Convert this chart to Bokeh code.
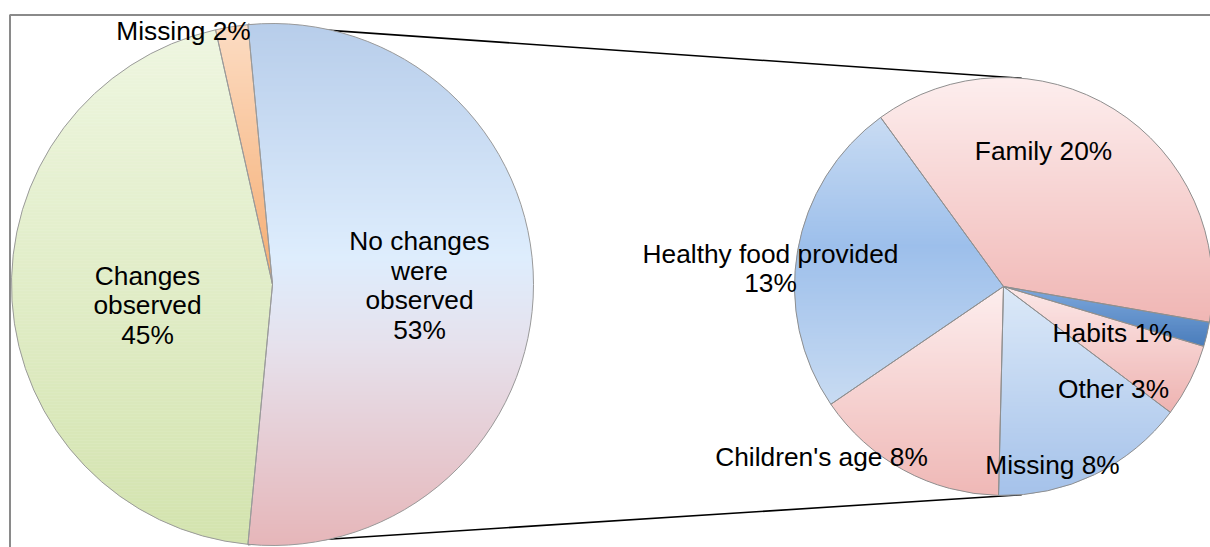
import math
from bokeh.plotting import figure
from bokeh.models import ColumnDataSource
from bokeh.core.properties import value
from bokeh.embed import file_html
from bokeh.resources import INLINE

# ---------------- data ----------------
main_categories = ["No changes were observed", "Changes observed", "Missing"]
main_values = [53, 45, 2]
main_texts = ["No changes\nwere\nobserved\n53%", "Changes\nobserved\n45%", "Missing 2%"]

sub_categories = ["Family", "Habits", "Other", "Missing", "Children's age", "Healthy food provided"]
sub_values = [20, 1, 3, 8, 8, 13]
sub_texts = ["Family 20%", "Habits 1%", "Other 3%", "Missing 8%", "Children's age 8%",
             "Healthy food provided\n13%"]

# ---------------- layout / style ----------------
W, H = 1210, 547
MAIN_C = (272, 284)
MAIN_R = 261
SUB_C = (1003, 286)
SUB_R = 209
SUB_START_DEG = 126

main_grad = [
    [(0.0, "#b7cdea"), (0.45, "#deedfd"), (0.62, "#e6e1ec"), (1.0, "#e6b6b9")],
    [(0.0, "#eef6e0"), (1.0, "#d3e3ae")],
    [(0.0, "#fcdcc3"), (1.0, "#f5ad72")],
]
sub_grad = [
    [(0.0, "#fdeeee"), (1.0, "#f0b6b4")],
    [(0.0, "#7ea8dd"), (1.0, "#4a7dbb")],
    [(0.0, "#fce8e8"), (1.0, "#eeb3b1")],
    [(0.0, "#dce9f8"), (1.0, "#a5c2ea")],
    [(0.0, "#fdeeee"), (1.0, "#efb8b6")],
    [(0.0, "#c9dcf3"), (0.45, "#9dbfeb"), (1.0, "#c8dbf2")],
]
main_label_pos = [(419, 285), (147, 305), (183, 30)]
sub_label_pos = [(1043, 150), (1112, 332), (1113, 388), (1052, 464), (821, 456), (770, 268)]
FONT = value("Liberation Sans")
FONT_SIZE = "26.3px"
LINE_H = 0.98


def Y(y):
    return H - y


def slice_angles(values, start):
    total = float(sum(values))
    out = []
    a = start
    for v in values:
        span = 2 * math.pi * v / total
        out.append((a - span, a))
        a -= span
    return out


def hex2rgb(h):
    h = h.lstrip("#")
    return tuple(int(h[i:i + 2], 16) for i in (0, 2, 4))


def grad_color(stops, t):
    t = min(max(t, 0.0), 1.0)
    for (t0, c0), (t1, c1) in zip(stops[:-1], stops[1:]):
        if t <= t1:
            f = 0 if t1 == t0 else (t - t0) / (t1 - t0)
            a, b = hex2rgb(c0), hex2rgb(c1)
            return "#%02x%02x%02x" % tuple(int(round(a[i] + (b[i] - a[i]) * f)) for i in range(3))
    return stops[-1][1]


def clip(pts, keep, yv):
    out = []
    n = len(pts)
    for i in range(n):
        cur, prev = pts[i], pts[i - 1]
        cin, pin = keep(cur), keep(prev)
        if cin != pin:
            t = (yv - prev[1]) / (cur[1] - prev[1])
            out.append((prev[0] + t * (cur[0] - prev[0]), yv))
        if cin:
            out.append(cur)
    return out


def slice_poly(cx, cy, r, lo, hi):
    n = max(6, int(math.degrees(hi - lo) * 1.5))
    pts = [(cx, cy)]
    for k in range(n + 1):
        a = hi - (hi - lo) * k / n
        pts.append((cx + r * math.cos(a), cy + r * math.sin(a)))
    return pts


def gradient_strips(cx, cy, r, angles, grads, step=1.5):
    xs, ys, cs = [], [], []
    for (lo, hi), stops in zip(angles, grads):
        poly = slice_poly(cx, cy, r, lo, hi)
        ymin = min(p[1] for p in poly)
        ymax = max(p[1] for p in poly)
        y = ymax
        while y > ymin:
            y0 = max(y - step, ymin)
            part = clip(poly, lambda p: p[1] <= y + 0.6, y + 0.6)
            if part:
                part = clip(part, lambda p: p[1] >= y0, y0)
            if len(part) >= 3:
                t = (ymax - (y + y0) / 2) / (ymax - ymin)
                xs.append([p[0] for p in part])
                ys.append([p[1] for p in part])
                cs.append(grad_color(stops, t))
            y = y0
    return xs, ys, cs


p = figure(width=W, height=H, x_range=(0, W), y_range=(0, H),
           x_axis_type=None, y_axis_type=None, min_border=0,
           toolbar_location=None, output_backend="svg")
p.grid.visible = False
p.outline_line_color = None
p.background_fill_color = "white"

# chart frame
p.quad(left=[9.5], right=[W + 20], top=[Y(14.5)], bottom=[-20],
       fill_color=None, line_color="#8a8a8a", line_width=2)

main_ang = slice_angles(main_values, math.pi * main_values[0] / sum(main_values))
sub_ang = slice_angles(sub_values, math.radians(SUB_START_DEG))

mcx, mcy = MAIN_C[0], Y(MAIN_C[1])
scx, scy = SUB_C[0], Y(SUB_C[1])

# connector lines from the split slice to the secondary pie
lo0, hi0 = main_ang[0]
x0s = [mcx + MAIN_R * math.cos(hi0), mcx + MAIN_R * math.cos(lo0)]
y0s = [mcy + MAIN_R * math.sin(hi0), mcy + MAIN_R * math.sin(lo0)]
x1s = [scx + SUB_R * math.cos(math.radians(85)), scx + SUB_R * math.cos(math.radians(-85))]
y1s = [scy + SUB_R * math.sin(math.radians(85)), scy + SUB_R * math.sin(math.radians(-85))]
p.segment(x0=x0s, y0=y0s, x1=x1s, y1=y1s, line_color="black", line_width=1.6)

# gradient fills
for cx, cy, r, angs, grads in [(mcx, mcy, MAIN_R, main_ang, main_grad),
                               (scx, scy, SUB_R, sub_ang, sub_grad)]:
    xs, ys, cs = gradient_strips(cx, cy, r, angs, grads)
    p.patches(xs=xs, ys=ys, fill_color=cs, line_color=None)

# slice outlines
main_src = ColumnDataSource(dict(
    cat=main_categories, val=main_values,
    start=[a[0] for a in main_ang], end=[a[1] for a in main_ang]))
p.wedge(x=mcx, y=mcy, radius=MAIN_R, start_angle="start", end_angle="end",
        source=main_src, fill_alpha=0, line_color="#9a9a9a", line_width=1)

sub_src = ColumnDataSource(dict(
    cat=sub_categories, val=sub_values,
    start=[a[0] for a in sub_ang], end=[a[1] for a in sub_ang]))
p.wedge(x=scx, y=scy, radius=SUB_R, start_angle="start", end_angle="end",
        source=sub_src, fill_alpha=0, line_color="#8f8f8f", line_width=1)

# labels
p.text(x=[q[0] for q in main_label_pos], y=[Y(q[1]) for q in main_label_pos], text=main_texts,
       text_align="center", text_baseline="middle", text_font=FONT,
       text_font_size=FONT_SIZE, text_color="black", text_line_height=LINE_H)
p.text(x=[q[0] for q in sub_label_pos], y=[Y(q[1]) for q in sub_label_pos], text=sub_texts,
       text_align="center", text_baseline="middle", text_font=FONT,
       text_font_size=FONT_SIZE, text_color="black", text_line_height=LINE_H)

open("out.html", "w").write(file_html(p, INLINE))
